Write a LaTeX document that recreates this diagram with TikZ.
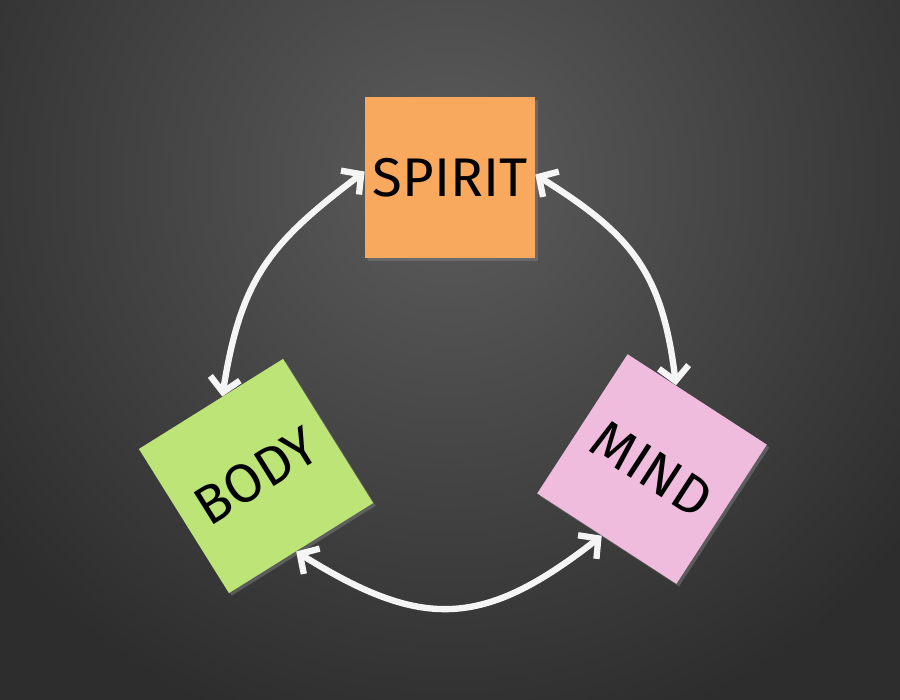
\documentclass[tikz,border=0pt]{standalone}
\usepackage{fontspec}
\setsansfont{Fira Sans}
\usepackage{xcolor}
\usepackage{tikz}
\usetikzlibrary{positioning}
\usetikzlibrary{shapes,calc,arrows.meta,shadows}

\definecolor{boardlight}{HTML}{5C5C5C}
\definecolor{boarddark}{HTML}{2D2D2D}
\definecolor{spiritorange}{HTML}{F9A95E}
\definecolor{bodygreen}{HTML}{BDE477}
\definecolor{mindpink}{HTML}{F0BCDD}

\begin{document}
\begin{tikzpicture}[x=0.02cm,y=-0.02cm,
  note/.style={rectangle,inner sep=0pt,
    drop shadow={opacity=0.5,shadow xshift=1.5pt,shadow yshift=-1.5pt},
    font=\sffamily\fontsize{31}{31}\selectfont},
  chalk/.style={draw=white!92!gray,line width=3.6pt,line cap=round,<->,
    >={Straight Barb[length=8pt,width=17pt]}}]
\useasboundingbox (0,0) rectangle (900,700);
% chalkboard
\fill[boarddark] (0,0) rectangle (900,700);
\shade[inner color=boardlight,outer color=boarddark] (450,180) circle (580);

% sticky notes
\node[note,fill=spiritorange,minimum width=3.4cm,minimum height=3.22cm] at (450,177.5) (spirit) {SPIRIT};
\node[note,fill=bodygreen,minimum size=3.4cm,rotate=32] at (256,476) (body) {BODY};
\node[note,fill=mindpink,minimum size=3.32cm,rotate=-33] at (652,469) (mind) {MIND};

% chalk arrows
\draw[chalk] (spirit.176) to[out=217,in=81,looseness=1.15] (body.81);
\draw[chalk] (spirit.2) to[out=-32,in=97,looseness=1.15] (mind.107);
\draw[chalk] (body.266) to[out=-32,in=218,looseness=1.25] (mind.266);
\end{tikzpicture}
\end{document}
